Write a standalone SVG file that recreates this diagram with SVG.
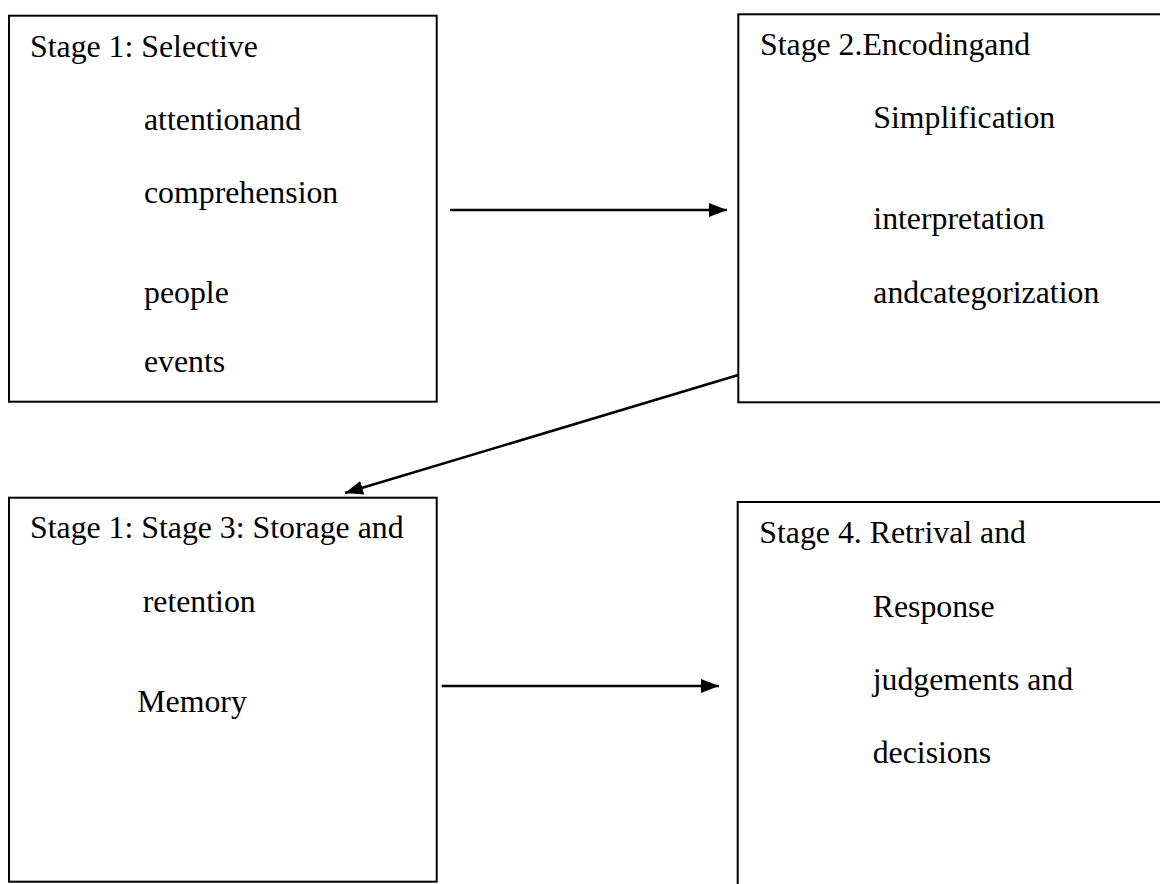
<svg xmlns="http://www.w3.org/2000/svg" width="1160" height="884" viewBox="0 0 1160 884">
<style>
.box{fill:#fff;stroke:#000;stroke-width:2}
.t{font-family:"Liberation Serif","Times New Roman",serif;font-size:31.8px;fill:#000}
.c{stroke:#000;stroke-width:2.6;fill:none}
</style>
<defs>
<marker id="ah" markerUnits="userSpaceOnUse" markerWidth="18" markerHeight="14" refX="18" refY="7" orient="auto">
<path d="M0,0 L18,7 L0,14 Z" fill="#000"/>
</marker>
</defs>
<rect width="1160" height="884" fill="#fff"/>
<g id="stage1">
<rect class="box" x="9" y="15.7" width="427.7" height="386"/>
<text class="t" x="30" y="56.7">Stage 1: Selective</text>
<text class="t" x="144" y="130">attentionand</text>
<text class="t" x="144" y="203.3">comprehension</text>
<text class="t" x="144" y="303.3">people</text>
<text class="t" x="144" y="371.7">events</text>
</g>
<g id="stage2">
<rect class="box" x="738.3" y="14.3" width="440" height="388"/>
<text class="t" x="760" y="55">Stage 2.Encodingand</text>
<text class="t" x="873.3" y="128.3">Simplification</text>
<text class="t" x="873.3" y="229.3">interpretation</text>
<text class="t" x="873.3" y="303.3">andcategorization</text>
</g>
<g id="stage3">
<rect class="box" x="9" y="497.7" width="427.7" height="384"/>
<text class="t" x="30" y="538.3">Stage 1: Stage 3: Storage and</text>
<text class="t" x="142.7" y="611.7">retention</text>
<text class="t" x="137.3" y="711.7">Memory</text>
</g>
<g id="stage4">
<rect class="box" x="737.7" y="502" width="440" height="400"/>
<text class="t" x="759.3" y="543.3">Stage 4. Retrival and</text>
<text class="t" x="872.7" y="616.7">Response</text>
<text class="t" x="872.7" y="690">judgements and</text>
<text class="t" x="872.7" y="763.3">decisions</text>
</g>
<g id="connectors">
<line class="c" x1="450" y1="210" x2="727" y2="210" marker-end="url(#ah)"/>
<line class="c" x1="738.3" y1="375" x2="345" y2="493" marker-end="url(#ah)"/>
<line class="c" x1="441.7" y1="686" x2="719" y2="686" marker-end="url(#ah)"/>
</g>
</svg>
